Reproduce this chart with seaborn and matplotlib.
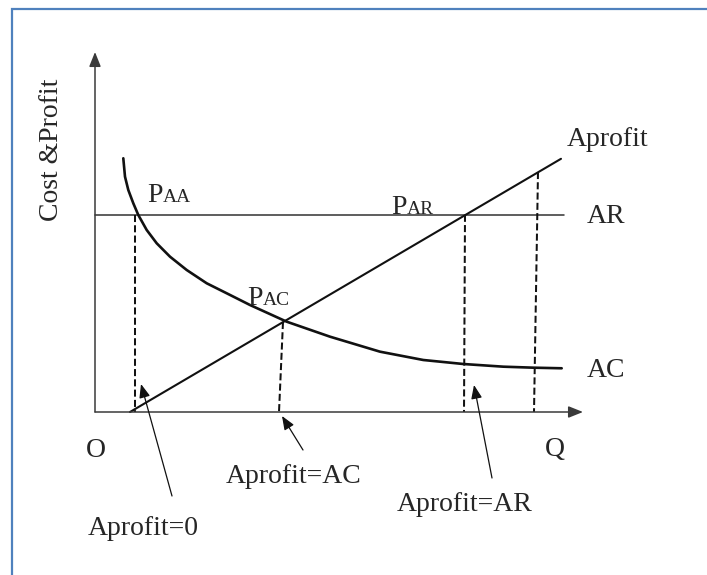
import numpy as np
import pandas as pd
import seaborn as sns
import matplotlib.pyplot as plt
from matplotlib.patches import Rectangle

# sketch units, origin O at the corner of the two axes
ar_level = 4.93
ar_q = [0.0, 9.38]

aprofit_q = [0.70, 9.32]
aprofit_v = [0.0, 6.33]

ac_q = [0.566, 0.600, 0.666, 0.766, 0.866, 1.034, 1.234, 1.500, 1.834, 2.234,
        2.634, 3.100, 3.834, 4.700, 5.700, 6.566, 7.366, 8.166, 8.766, 9.334]
ac_v = [6.343, 5.883, 5.550, 5.218, 4.925, 4.550, 4.218, 3.883, 3.550, 3.218,
        2.968, 2.675, 2.258, 1.883, 1.508, 1.300, 1.200, 1.133, 1.108, 1.093]

# dashed drop lines from the crossing points down to the Q axis
drop_top_q = [0.80, 3.76, 7.40, 8.86]
drop_top_v = [4.93, 2.25, 4.93, 6.00]
drop_base_q = [0.80, 3.68, 7.38, 8.78]

q_axis_end = 9.76
v_axis_end = 9.0

sns.set_style('white')
plt.rcParams['font.family'] = ['Liberation Serif', 'DejaVu Serif']

fig = plt.figure(figsize=(7.07, 5.75), dpi=100)
ax = fig.add_axes([0, 0, 1, 1])

ink = '#111111'
axis_ink = '#3a3a3a'

# average revenue (flat)
sns.lineplot(x=ar_q, y=[ar_level] * len(ar_q), ax=ax, color=axis_ink, lw=1.15)
# average profit line
sns.lineplot(x=aprofit_q, y=aprofit_v, ax=ax, color=ink, lw=1.5)
# average cost curve
ac = pd.DataFrame({'q': ac_q, 'v': ac_v})
sns.lineplot(data=ac, x='q', y='v', sort=False, estimator=None, ax=ax,
             color=ink, lw=1.9, solid_joinstyle='round')

for tq, tv, bq in zip(drop_top_q, drop_top_v, drop_base_q):
    sns.lineplot(x=[tq, bq], y=[tv, 0.0], sort=False, estimator=None, ax=ax,
                 color=ink, lw=1.45, linestyle=(0, (3.5, 1.6)))

# axes with arrow heads
head = '-|>,head_length=0.55,head_width=0.22'
ax.annotate('', xy=(0, v_axis_end), xytext=(0, 0),
            arrowprops=dict(arrowstyle=head, color=axis_ink, lw=1.1,
                            mutation_scale=16, shrinkA=0, shrinkB=0))
ax.annotate('', xy=(q_axis_end, 0), xytext=(0, 0),
            arrowprops=dict(arrowstyle=head, color=axis_ink, lw=1.1,
                            mutation_scale=16, shrinkA=0, shrinkB=0))

fs = 20
ax.text(-0.88, 6.55, 'Cost &Profit', rotation=90, ha='center', va='center', fontsize=fs)
ax.text(9.44, 6.64, 'Aprofit', ha='left', va='baseline', fontsize=fs)
ax.text(9.84, 4.73, 'AR', ha='left', va='baseline', fontsize=fs)
ax.text(9.84, 0.88, 'AC', ha='left', va='baseline', fontsize=fs)
ax.text(0.02, -1.125, 'O', ha='center', va='baseline', fontsize=fs)
ax.text(9.0, -1.1, 'Q', ha='left', va='baseline', fontsize=fs)

# P with small-caps subscript
for q, v, sub in [(1.04, 5.25, 'AA'), (3.04, 2.675, 'AC'), (5.934, 4.96, 'AR')]:
    p = ax.text(q, v, 'P', ha='left', va='baseline', fontsize=fs)
    ax.annotate(sub, xy=(1, v), xycoords=(p, 'data'), ha='left', va='baseline',
                fontsize=14)

# pointer labels
pointers = [
    ('Aprofit=0', (-0.14, -3.075), (1.54, -2.1), (0.92, 0.70)),
    ('Aprofit=AC', (2.62, -1.775), (4.16, -0.95), (3.74, -0.10)),
    ('Aprofit=AR', (6.04, -2.47), (7.94, -1.65), (7.58, 0.675)),
]
for txt, pos, tail, tip in pointers:
    ax.text(pos[0], pos[1], txt, ha='left', va='baseline', fontsize=fs)
    ax.annotate('', xy=tip, xytext=tail,
                arrowprops=dict(arrowstyle=head, color=ink, lw=0.9,
                                mutation_scale=15, shrinkA=0, shrinkB=0))

ax.set_xlim(-1.9, 12.24)
ax.set_ylim(-4.075, 10.3)
ax.axis('off')

# blue frame (left and top edges visible)
fig.patches.append(Rectangle((12 / 707, -0.05), 1.2, 1.05 - 9 / 575,
                             transform=fig.transFigure, fill=False,
                             edgecolor='#4f81bd', lw=1.6))

fig.savefig('out.png', dpi=100, facecolor='white')
